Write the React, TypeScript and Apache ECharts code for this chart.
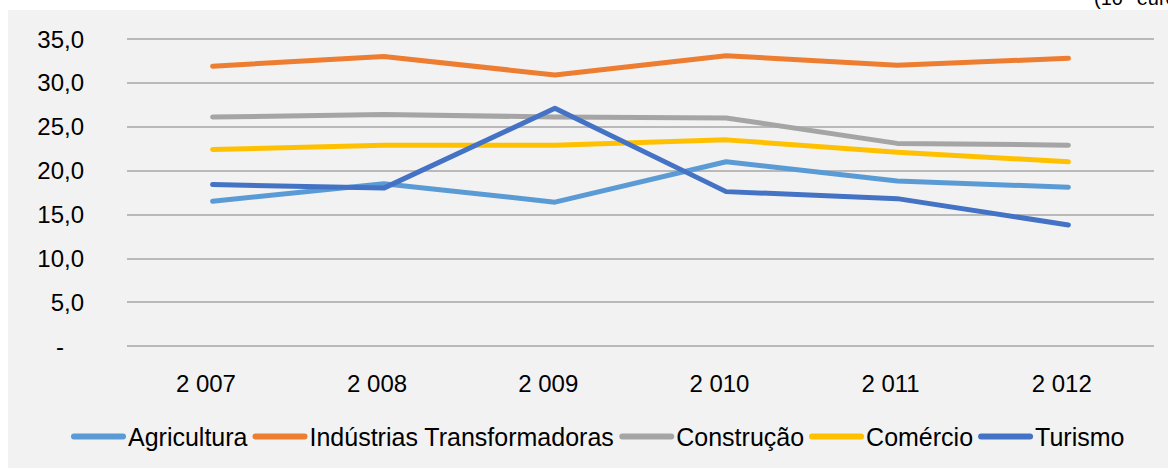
import React, { useEffect, useRef } from "react";
import * as echarts from "echarts";

const categories = ["2 007", "2 008", "2 009", "2 010", "2 011", "2 012"];
const seriesNames = ["Agricultura", "Indústrias Transformadoras", "Construção", "Comércio", "Turismo"];
const agricultura = [16.5, 18.5, 16.4, 21.0, 18.8, 18.1];
const industrias = [31.9, 33.0, 30.9, 33.1, 32.0, 32.8];
const construcao = [26.1, 26.4, 26.1, 26.0, 23.1, 22.9];
const comercio = [22.4, 22.9, 22.9, 23.5, 22.1, 21.0];
const turismo = [18.4, 18.0, 27.1, 17.6, 16.8, 13.8];
const colors = ["#5b9bd5", "#ed7d31", "#a5a5a5", "#ffc000", "#4472c4"];
const unitLabel = "(10⁶ euros)";

const FONT = "'Liberation Sans', Arial, sans-serif";

export default function App() {
  const ref = useRef<HTMLDivElement>(null);
  useEffect(() => {
    document.body.style.margin = "0";
    if (!ref.current) return;
    const chart = echarts.init(ref.current, null, { renderer: "svg" });
    const values = [agricultura, industrias, construcao, comercio, turismo];
    chart.setOption({
      animation: false,
      backgroundColor: "#ffffff",
      textStyle: { fontFamily: FONT },
      graphic: [
        {
          type: "rect",
          z: -10,
          silent: true,
          shape: { x: 8, y: 10, width: 1160, height: 458 },
          style: { fill: "#f2f2f2" },
        },
        {
          type: "text",
          x: 1094,
          y: 8,
          style: {
            text: unitLabel,
            fontSize: 20,
            fontFamily: FONT,
            fill: "#000000",
            verticalAlign: "bottom",
            align: "left",
          },
        },
      ],
      grid: { left: 127, right: 14, top: 39, height: 307, containLabel: false },
      xAxis: {
        type: "category",
        data: categories,
        boundaryGap: true,
        axisLine: { show: false },
        axisTick: { show: false },
        axisLabel: {
          color: "#000",
          fontSize: 24,
          fontFamily: FONT,
          margin: 25,
          formatter: (v: string) => v + "\u00a0\u00a0",
        },
      },
      yAxis: {
        type: "value",
        min: 0,
        max: 35,
        interval: 5,
        axisLine: { show: false },
        axisTick: { show: false },
        splitLine: { lineStyle: { color: "#a6a6a6", width: 1.5 } },
        axisLabel: {
          color: "#000",
          fontSize: 24,
          fontFamily: FONT,
          margin: 43,
          formatter: (v: number) => (v === 0 ? "-   " : v.toFixed(1).replace(".", ",")),
        },
      },
      legend: {
        bottom: 16,
        left: 66,
        itemWidth: 55,
        itemHeight: 6,
        itemGap: 5,
        icon: "path://M3,0 L52,0 A3,3 0 0 1 52,6 L3,6 A3,3 0 0 1 3,0 Z",
        textStyle: { color: "#000", fontSize: 25, fontFamily: FONT, padding: [0, 0, 0, -3] },
        data: seriesNames,
      },
      series: seriesNames.map((name, i) => ({
        name,
        type: "line",
        data: values[i],
        symbol: "none",
        color: colors[i],
        lineStyle: { color: colors[i], width: 5, cap: "round", join: "round" },
        z: 2 + i,
      })),
    });
    return () => chart.dispose();
  }, []);
  return <div ref={ref} style={{ width: 1168, height: 470 }} />;
}
